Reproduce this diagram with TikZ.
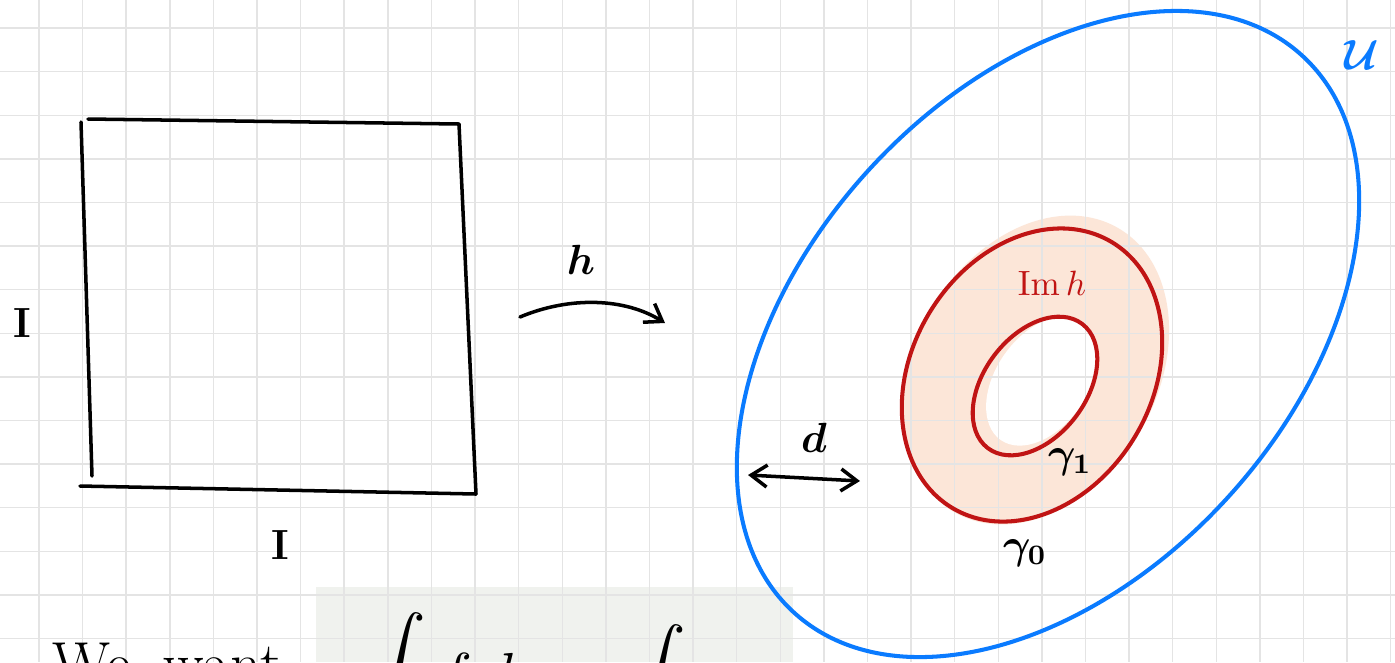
\documentclass[tikz,border=0pt]{standalone}
\usepackage{amsmath,amssymb,bm}
\usetikzlibrary{arrows.meta,calc}
\definecolor{NoteBlue}{HTML}{0A7BFF}
\definecolor{NoteRed}{HTML}{C01414}
\definecolor{NotePeach}{HTML}{FCE6D8}
\definecolor{NoteGrid}{HTML}{E4E4E4}
\definecolor{NoteShade}{HTML}{F0F2EE}

\begin{document}
\begin{tikzpicture}[x=0.1mm,y=-0.1mm,font=\large,
  >={Straight Barb[length=1.6mm,width=2.2mm]},
  pen/.style={line width=1pt,line cap=round},
  lbl/.style={inner sep=0pt,font=\large\boldmath}]
  \useasboundingbox (0,0) rectangle (1395,662);
  \clip (0,0) rectangle (1395,662);
  \fill[white] (0,0) rectangle (1395,662);
  \fill[NoteShade] (316,587) rectangle (793,662);
  % shaded image of h
  \fill[NotePeach,rotate around={60:(1036,370)}] (1036,370) ellipse [x radius=16.4mm, y radius=12.1mm];
  \fill[white,rotate around={55:(1042,381)}] (1042,381) ellipse [x radius=7.2mm, y radius=4.6mm];
  % grid paper
  \foreach \i in {0,...,31}
    \draw[NoteGrid,line width=0.4pt] (39+43.6*\i,0) -- (39+43.6*\i,662);
  \foreach \j in {0,...,14}
    \draw[NoteGrid,line width=0.4pt] (0,28+43.6*\j) -- (1395,28+43.6*\j);

  % the square I x I
  \draw[pen] (88,119) -- (459,124);
  \draw[pen] (81,122) -- (92,476);
  \draw[pen] (459,124) -- (476,494);
  \draw[pen] (80,486) -- (476,494);
  \node[lbl,font=\large\bfseries] (Ileft) at (22,323) {I};
  \node[lbl,font=\large\bfseries] (Ibottom) at (280,545) {I};

  % the map h
  \coordinate (hfrom) at (520,317);
  \coordinate (hto) at (665,323);
  \draw[pen,->] (hfrom) .. controls (570,296) and (625,298) .. (hto);
  \node[lbl] (hlabel) at (581,260) {$h$};

  % the open set and the curves
  \draw[NoteBlue,line width=1.15pt,rotate around={47.6:(1048,334)}] (1048,334) ellipse [x radius=37.7mm, y radius=24.3mm];
  \node[lbl,NoteBlue] (ulabel) at (1362,55) {$\mathcal{U}$};
  \draw[NoteRed,line width=1.15pt,rotate around={59:(1032,375)}] (1032,375) ellipse [x radius=15.5mm, y radius=12mm];
  \draw[NoteRed,line width=1.15pt,rotate around={52.7:(1035,386)}] (1035,386) ellipse [x radius=7.8mm, y radius=5.1mm];
  \node[lbl,NoteRed,font=\normalsize] (imh) at (1052,283) {$\mathrm{Im}\,h$};
  \node[lbl] (gamma1) at (1070,462) {$\gamma_1$};
  \node[lbl] (gamma0) at (1025,553) {$\gamma_0$};

  % distance d
  \coordinate (dfrom) at (748,475);
  \coordinate (dto) at (860,481);
  \draw[pen,<->] (dfrom) -- (dto);
  \node[lbl] (dlabel) at (814,438) {$d$};

  % the line below, cut off
  \node[lbl,anchor=base west,font=\LARGE] (we) at (52,684) {We};
  \node[lbl,anchor=base west,font=\LARGE] (want) at (163,684) {want};
  \node[lbl,anchor=base west,font=\LARGE] (lhs) at (365,695) {$\displaystyle\int f\,d\mu\;=$};
  \node[lbl,anchor=base west,font=\LARGE] (rhs) at (625,707) {$\displaystyle\int f\,d\nu$};
\end{tikzpicture}
\end{document}
